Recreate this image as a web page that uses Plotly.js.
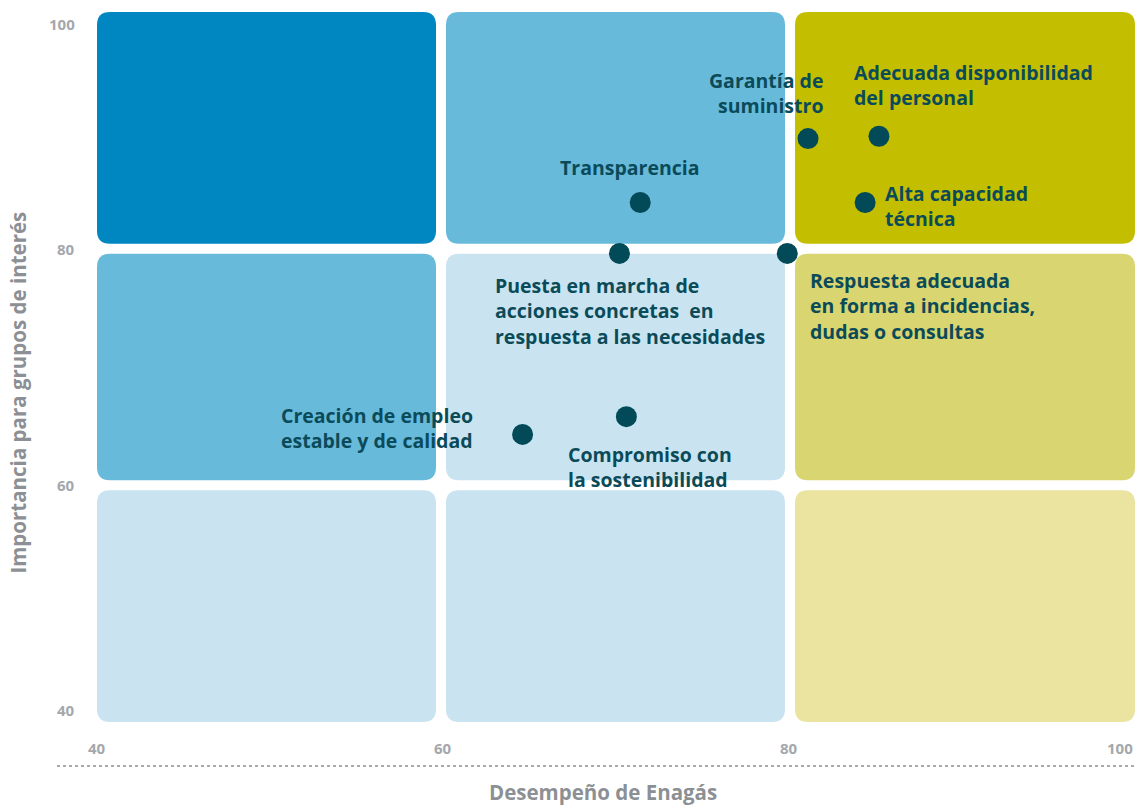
<!DOCTYPE html>
<html>
<head>
<meta charset="utf-8">
<script src="https://cdn.plot.ly/plotly-3.0.1.min.js"></script>
<style>
  html, body { margin: 0; padding: 0; background: #fff; }
  #myChart { width: 1136px; height: 805px; }
</style>
</head>
<body>
<div id="myChart"></div>
<script>
// data
var labels = [
  'Garantía de<br>suministro',
  'Adecuada disponibilidad<br>del personal',
  'Alta capacidad<br>técnica',
  'Transparencia',
  'Puesta en marcha de<br>acciones concretas  en<br>respuesta a las necesidades',
  'Respuesta adecuada<br>en forma a incidencias,<br>dudas o consultas',
  'Creación de empleo<br>estable y de calidad',
  'Compromiso con<br>la sostenibilidad'
];
var desempeno  = [81.1, 85.2, 84.4, 71.4, 70.2, 79.9, 64.6, 70.6];
var importancia = [89.3, 89.5, 83.9, 83.9, 79.6, 79.6, 64.3, 65.8];

var tickVals = [40, 60, 80, 100];
var zoneEdges = [40, 60, 80, 100];
// zone colours, row by row from the bottom
var zoneColors = [
  ['#c9e4f0', '#c9e4f0', '#eae4a0'],
  ['#68badb', '#c9e4f0', '#d9d570'],
  ['#0086c1', '#68badb', '#c3be00']
];

// label placement (pixels, relative to each point)
var labelPos = [
  {xanchor: 'right', xshift: 17, yshift: 46},
  {xanchor: 'left', xshift: -27, yshift: 51},
  {xanchor: 'left', xshift: 18, yshift: -3},
  {xanchor: 'center', xshift: -10, yshift: 35},
  {xanchor: 'left', xshift: -126, yshift: -58},
  {xanchor: 'left', xshift: 21, yshift: -53},
  {xanchor: 'left', xshift: -244, yshift: 6},
  {xanchor: 'left', xshift: -60, yshift: -50}
];

var W = 1136, H = 805;
var margin = {l: 97, r: 1, t: 12, b: 83, pad: 0};
var pxX = (W - margin.l - margin.r) / 60;
var pxY = (H - margin.t - margin.b) / 60;

var textColor = '#0b4b59';
var greyColor = '#a4a8ac';

function roundRect(x0, x1, y0, y1, r) {
  var rx = r / pxX, ry = r / pxY;
  return 'M' + (x0 + rx) + ',' + y0 +
    ' L' + (x1 - rx) + ',' + y0 +
    ' Q' + x1 + ',' + y0 + ' ' + x1 + ',' + (y0 + ry) +
    ' L' + x1 + ',' + (y1 - ry) +
    ' Q' + x1 + ',' + y1 + ' ' + (x1 - rx) + ',' + y1 +
    ' L' + (x0 + rx) + ',' + y1 +
    ' Q' + x0 + ',' + y1 + ' ' + x0 + ',' + (y1 - ry) +
    ' L' + x0 + ',' + (y0 + ry) +
    ' Q' + x0 + ',' + y0 + ' ' + (x0 + rx) + ',' + y0 + ' Z';
}

var shapes = [];
var gx = 5 / pxX, gy = 5 / pxY;
// small pixel nudges of the gaps around each zone edge
var edgeNudge = [0, -2, 1, 0];
for (var r = 0; r < 3; r++) {
  for (var c = 0; c < 3; c++) {
    var x0 = zoneEdges[c] + (c > 0 ? gx + edgeNudge[c] / pxX : 0);
    var x1 = zoneEdges[c + 1] - (c < 2 ? gx - edgeNudge[c + 1] / pxX : 0);
    var y0 = zoneEdges[r] + (r > 0 ? gy : 0);
    var y1 = zoneEdges[r + 1] - (r < 2 ? gy : 0);
    shapes.push({
      type: 'path', xref: 'x', yref: 'y', layer: 'below',
      path: roundRect(x0, x1, y0, y1, 13),
      fillcolor: zoneColors[r][c],
      line: {width: 0}
    });
  }
}
// dotted rule under the x tick labels
shapes.push({
  type: 'line', xref: 'paper', yref: 'paper',
  x0: -0.0385, x1: 1, y0: -0.062, y1: -0.062,
  line: {color: '#a8abae', width: 2, dash: 'dot'}
});

var labelFont = {family: 'Open Sans, sans-serif', size: 19.5, color: textColor, weight: 700};
var annotations = [];
for (var i = 0; i < labels.length; i++) {
  annotations.push({
    x: desempeno[i], y: importancia[i], xref: 'x', yref: 'y',
    text: labels[i], showarrow: false,
    xanchor: labelPos[i].xanchor, yanchor: 'middle',
    align: labelPos[i].xanchor == 'right' ? 'right' : (labelPos[i].xanchor == 'center' ? 'center' : 'left'),
    xshift: labelPos[i].xshift, yshift: labelPos[i].yshift,
    font: labelFont
  });
}

var tickFont = {family: 'Open Sans, sans-serif', size: 15, color: greyColor, weight: 700};
for (var k = 0; k < tickVals.length; k++) {
  // x ticks
  annotations.push({
    x: tickVals[k], y: 0, xref: 'x', yref: 'paper',
    text: String(tickVals[k]), showarrow: false,
    xanchor: k == tickVals.length - 1 ? 'right' : 'center',
    yanchor: 'middle', yshift: -26, font: tickFont
  });
  // y ticks
  annotations.push({
    x: 0, y: tickVals[k], xref: 'paper', yref: 'y',
    text: String(tickVals[k]), showarrow: false,
    xanchor: 'right', xshift: -20,
    yanchor: k == 0 ? 'bottom' : (k == tickVals.length - 1 ? 'top' : 'middle'),
    font: tickFont
  });
}

var titleFont = {family: 'Open Sans, sans-serif', size: 20.5, color: '#8c9094', weight: 700};
annotations.push({
  x: 0.4875, y: 0, xref: 'paper', yref: 'paper', yshift: -70,
  text: 'Desempeño de Enagás', showarrow: false,
  xanchor: 'center', yanchor: 'middle', font: titleFont
});
annotations.push({
  x: 0, y: 0.464, xref: 'paper', yref: 'paper', xshift: -79,
  text: 'Importancia para grupos de interés', showarrow: false,
  textangle: -90, xanchor: 'center', yanchor: 'middle', font: titleFont
});

var trace = {
  x: desempeno,
  y: importancia,
  type: 'scatter',
  mode: 'markers',
  marker: {color: '#024a57', size: 21},
  hoverinfo: 'skip'
};

var layout = {
  width: W, height: H,
  margin: margin,
  paper_bgcolor: '#ffffff',
  plot_bgcolor: '#ffffff',
  showlegend: false,
  xaxis: {range: [40, 100], showgrid: false, zeroline: false, showline: false,
          showticklabels: false, ticks: '', fixedrange: true},
  yaxis: {range: [40, 100], showgrid: false, zeroline: false, showline: false,
          showticklabels: false, ticks: '', fixedrange: true},
  shapes: shapes,
  annotations: annotations
};

Plotly.newPlot('myChart', [trace], layout, {displayModeBar: false, staticPlot: true});
</script>
</body>
</html>
